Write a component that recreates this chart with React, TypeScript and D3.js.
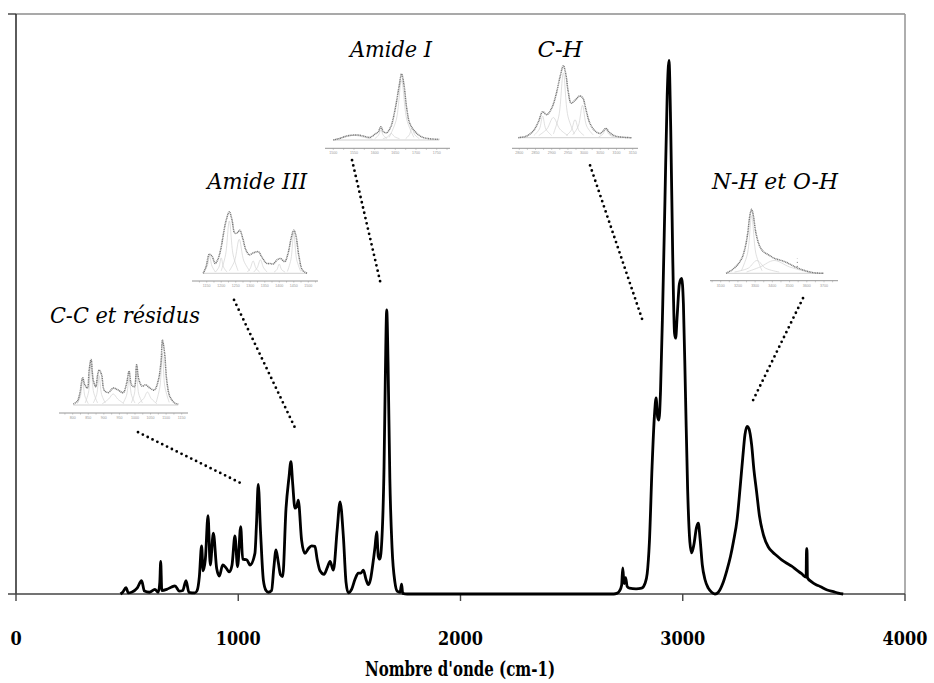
import React from "react";
import * as d3 from "d3";

// ---------- main spectrum (wavenumber cm-1, intensity 0..100) ----------
const spectrum: [number, number][] = [
  [470,0],[480,0.3],[495,1.1],[505,0.2],[520,0.3],[545,1],[565,2.3],[578,0.5],[600,0.3],[625,0.8],[640,0.3],[647,2],[651,5.6],[656,0.6],
  [678,0.8],[700,1.2],[715,1.4],[735,0.5],[750,0.6],[765,2.3],[778,0.3],[805,0.2],[815,0.6],[825,3],[835,8.3],[842,4],[852,6],
  [864,13.5],[874,5],[888,10.5],[903,4.4],[915,3.1],[930,5],[945,4.5],[960,3.8],[972,5],[985,10],[997,4.7],[1011,11.6],[1020,6],
  [1038,5.9],[1053,5],[1075,7],[1082,12],[1090,18.9],[1100,11],[1113,2.4],[1125,0.6],[1135,0.3],[1150,0.6],[1160,4.5],[1170,7.6],
  [1180,5.5],[1190,3.3],[1200,3],[1215,14.8],[1228,20],[1237,22.8],[1245,19],[1255,14.8],[1263,15],[1270,16.2],[1285,9.3],[1300,7],
  [1315,7.8],[1330,8.3],[1345,8.2],[1355,6],[1368,4],[1386,3.4],[1400,4.5],[1413,5.6],[1428,4.1],[1445,11],[1458,15.9],[1473,9.9],
  [1485,2],[1495,0.2],[1510,0.8],[1525,2.5],[1540,3.6],[1552,3.6],[1563,4.1],[1575,2.5],[1585,1.6],[1595,2.5],[1605,5],[1615,8],
  [1623,10.7],[1630,6.5],[1637,6],[1647,10],[1656,22],[1662,38],[1668,49],[1674,40],[1682,20],[1692,8],[1705,2],[1715,0.5],
  [1728,0.3],[1735,1.7],[1740,0.1],[1760,0],[2690,0],[2703,0.1],[2715,0.5],[2725,1.5],[2730,4.5],[2736,1.8],[2743,2.8],[2750,1.3],
  [2760,1],[2790,0.9],[2815,1],[2830,1.8],[2840,3.5],[2850,9],[2862,22],[2873,31],[2880,33.8],[2887,30.5],[2893,30],[2900,35],
  [2910,50],[2920,68],[2930,86],[2938,92],[2946,80],[2955,58],[2963,45],[2968,44.1],[2975,48],[2985,53.5],[2995,54.4],[3003,50],
  [3012,35],[3022,18],[3032,9],[3040,7.1],[3050,8.5],[3062,11.5],[3070,12.2],[3078,9.5],[3088,5],[3100,2.5],[3115,1],[3130,0.3],
  [3145,0],[3160,0.3],[3180,1.8],[3198,4],[3215,6.5],[3228,9],[3245,13],[3258,18.3],[3270,23.5],[3280,27.5],[3290,28.9],[3298,28.5],
  [3310,25.7],[3320,21.5],[3332,17.7],[3345,13.5],[3363,10.2],[3385,8.1],[3405,7.2],[3423,6.6],[3445,5.9],[3468,5.3],[3490,4.8],
  [3513,4.1],[3535,3.5],[3555,2.9],[3557,7.8],[3559,7.8],[3561,2.8],[3580,2.1],[3600,1.6],[3618,1.3],[3650,0.7],[3678,0.4],
  [3700,0.15],[3722,0]
];
const xTicks = [0, 1000, 2000, 3000, 4000];
const xTitle = "Nombre d'onde (cm-1)";

// ---------- band labels ----------
const bandLabels = ["C-C et résidus", "Amide III", "Amide I", "C-H", "N-H et O-H"];

// ---------- inset 1 : C-C et résidus ----------
const ccTotal: [number, number][] = [
  [802,0.015],[815,0.06],[823,0.18],[832,0.42],[839,0.31],[847,0.26],[853,0.54],[859,0.7],[866,0.38],[874,0.28],[880,0.46],[885,0.54],
  [893,0.46],[901,0.23],[914,0.19],[930,0.26],[946,0.23],[962,0.19],[973,0.33],[981,0.52],[989,0.31],[998,0.28],[1005,0.62],[1013,0.38],
  [1023,0.29],[1034,0.31],[1048,0.26],[1062,0.23],[1075,0.38],[1084,0.69],[1088,1.0],[1095,0.8],[1102,0.38],[1112,0.13],[1128,0.03],[1139,0.015]
];
const ccBands: [number, number][][] = [
  [[815,0.02],[825,0.14],[832,0.38],[839,0.14],[850,0.02]],
  [[840,0.03],[851,0.2],[859,0.62],[867,0.2],[880,0.03]],
  [[866,0.03],[877,0.16],[885,0.45],[893,0.16],[905,0.03]],
  [[895,0.02],[915,0.09],[930,0.17],[945,0.09],[965,0.02]],
  [[962,0.03],[973,0.15],[981,0.4],[989,0.15],[1000,0.03]],
  [[988,0.03],[998,0.17],[1005,0.5],[1012,0.17],[1024,0.03]],
  [[1010,0.02],[1028,0.1],[1040,0.2],[1052,0.1],[1070,0.02]],
  [[1068,0.04],[1080,0.28],[1088,0.8],[1096,0.28],[1110,0.04]]
];
const ccTicks = ["800", "850", "900", "950", "1000", "1050", "1100", "1150"];

// ---------- inset 2 : Amide III ----------
const a3Total: [number, number][] = [
  [1138,0],[1148,0.11],[1159,0.31],[1169,0.27],[1179,0.16],[1188,0.22],[1198,0.38],[1207,0.62],[1216,0.84],[1228,1.0],[1237,0.87],
  [1247,0.65],[1256,0.66],[1264,0.7],[1274,0.57],[1285,0.38],[1297,0.3],[1310,0.33],[1328,0.35],[1339,0.27],[1357,0.16],[1368,0.16],
  [1379,0.15],[1393,0.22],[1404,0.24],[1419,0.19],[1430,0.32],[1442,0.59],[1450,0.7],[1457,0.62],[1468,0.27],[1480,0.05],[1496,0]
];
const a3Bands: [number, number][][] = [
  [[1140,0.02],[1152,0.12],[1160,0.28],[1168,0.12],[1180,0.02]],
  [[1180,0.02],[1192,0.1],[1200,0.25],[1208,0.1],[1220,0.02]],
  [[1200,0.04],[1215,0.3],[1228,0.85],[1241,0.3],[1258,0.04]],
  [[1228,0.04],[1246,0.2],[1262,0.55],[1278,0.2],[1298,0.04]],
  [[1290,0.02],[1300,0.08],[1310,0.2],[1320,0.08],[1332,0.02]],
  [[1312,0.02],[1324,0.09],[1335,0.22],[1346,0.09],[1358,0.02]],
  [[1382,0.02],[1392,0.06],[1400,0.15],[1408,0.06],[1420,0.02]],
  [[1428,0.03],[1440,0.22],[1450,0.65],[1460,0.22],[1474,0.03]]
];
const a3Ticks = ["1150", "1200", "1250", "1300", "1350", "1400", "1450", "1500"];

// ---------- inset 3 : Amide I ----------
const a1Total: [number, number][] = [
  [1500,0],[1516,0.025],[1532,0.06],[1557,0.076],[1573,0.06],[1589,0.04],[1601,0.09],[1609,0.126],[1615,0.2],[1621,0.126],[1629,0.11],
  [1639,0.2],[1649,0.45],[1659,0.81],[1665,1.0],[1671,0.83],[1677,0.5],[1685,0.25],[1698,0.126],[1710,0.06],[1726,0.025],[1756,0.01]
];
const a1Bands: [number, number][][] = [
  [[1505,0.01],[1525,0.04],[1550,0.07],[1575,0.04],[1595,0.01]],
  [[1600,0.02],[1609,0.07],[1615,0.15],[1621,0.07],[1630,0.02]],
  [[1620,0.02],[1632,0.05],[1640,0.1],[1648,0.05],[1660,0.02]],
  [[1635,0.04],[1652,0.3],[1665,0.9],[1678,0.3],[1695,0.04]],
  [[1675,0.02],[1684,0.08],[1690,0.18],[1697,0.08],[1708,0.02]]
];
const a1Ticks = ["1500", "1550", "1600", "1650", "1700", "1750"];

// ---------- inset 4 : C-H ----------
const chTotal: [number, number][] = [
  [2797,0],[2823,0.024],[2843,0.093],[2859,0.22],[2872,0.36],[2885,0.32],[2900,0.41],[2913,0.59],[2926,0.85],[2936,1.0],[2944,0.87],
  [2951,0.64],[2960,0.48],[2972,0.52],[2987,0.58],[2996,0.55],[3006,0.385],[3018,0.2],[3034,0.093],[3049,0.06],[3059,0.093],
  [3067,0.13],[3078,0.075],[3095,0.024],[3147,0]
];
const chBands: [number, number][][] = [
  [[2845,0.03],[2862,0.12],[2872,0.3],[2882,0.12],[2900,0.03]],
  [[2860,0.03],[2885,0.12],[2905,0.28],[2925,0.12],[2950,0.03]],
  [[2905,0.05],[2922,0.3],[2936,0.9],[2950,0.3],[2970,0.05]],
  [[2945,0.03],[2960,0.1],[2972,0.25],[2984,0.1],[3000,0.03]],
  [[2965,0.04],[2982,0.16],[2995,0.45],[3008,0.16],[3028,0.04]],
  [[3045,0.01],[3058,0.05],[3067,0.12],[3076,0.05],[3090,0.01]]
];
const chTicks = ["2800", "2850", "2900", "2950", "3000", "3050", "3100", "3150"];

// ---------- inset 5 : N-H et O-H ----------
const nhTotal: [number, number][] = [
  [3131,0],[3164,0.05],[3197,0.13],[3222,0.23],[3241,0.39],[3257,0.625],[3270,0.91],[3280,1.0],[3289,0.91],[3305,0.625],[3324,0.44],
  [3347,0.34],[3377,0.29],[3415,0.23],[3454,0.2],[3493,0.156],[3532,0.1],[3580,0.05],[3638,0.01],[3696,0]
];
const nhSpike: [number, number][] = [[3545, 0.1], [3545, 0.23]];
const nhBands: [number, number][][] = [
  [[3220,0.04],[3255,0.3],[3280,0.9],[3305,0.3],[3340,0.04]],
  [[3180,0.02],[3260,0.08],[3310,0.2],[3360,0.08],[3440,0.02]],
  [[3250,0.02],[3330,0.1],[3410,0.2],[3500,0.1],[3620,0.01]]
];
const nhTicks = ["3100", "3200", "3300", "3400", "3500", "3600", "3700"];

// ---------- layout ----------
const W = 934, H = 683;
const M = { left: 16, right: 905, top: 14, bottom: 594 };
const SERIF = "DejaVu Serif";

type Inset = {
  total: [number, number][]; bands: [number, number][][]; ticks: string[];
  x0: number; x1: number; px0: number; px1: number; ax0: number; ax1: number;
  axisY: number; base: number; h: number; extra?: [number, number][];
};
const insets: Inset[] = [
  { total: ccTotal, bands: ccBands, ticks: ccTicks, x0: 800, x1: 1150, px0: 72.7, px1: 181.7, ax0: 59, ax1: 188, axisY: 413, base: 405, h: 65 },
  { total: a3Total, bands: a3Bands, ticks: a3Ticks, x0: 1150, x1: 1500, px0: 206.7, px1: 308.3, ax0: 192, ax1: 318, axisY: 281, base: 273.3, h: 61.6 },
  { total: a1Total, bands: a1Bands, ticks: a1Ticks, x0: 1500, x1: 1750, px0: 333.3, px1: 436.7, ax0: 325, ax1: 450, axisY: 148.3, base: 140, h: 66 },
  { total: chTotal, bands: chBands, ticks: chTicks, x0: 2800, x1: 3150, px0: 519.3, px1: 632.7, ax0: 512, ax1: 638, axisY: 148.3, base: 137.7, h: 72 },
  { total: nhTotal, bands: nhBands, ticks: nhTicks, x0: 3100, x1: 3700, px0: 720.7, px1: 824, ax0: 710, ax1: 838, axisY: 280.7, base: 273.3, h: 64, extra: nhSpike }
];

// label anchors (main-chart data coords) and their rendered widths
const labelPos: [number, number][] = [[490, 46.7], [1085, 69.8], [1687, 92.6], [2448, 92.6], [3415, 69.8]];
const labelWidths = [150, 100, 82, 45, 126];
const leaders: [number, number, number, number][] = [
  [549, 27.9, 1012, 19.1],
  [981, 50.7, 1256, 28.6],
  [1512, 74.8, 1642, 53.3],
  [2583, 73.9, 2817, 47.4],
  [3541, 51.0, 3315, 33.3]
];

function InsetChart({ d }: { d: Inset }) {
  const sx = d3.scaleLinear().domain([d.x0, d.x1]).range([d.px0, d.px1]);
  const sy = d3.scaleLinear().domain([0, 1]).range([d.base, d.base - d.h]);
  const line = d3.line<[number, number]>().x(p => sx(p[0])).y(p => sy(p[1])).curve(d3.curveCatmullRom.alpha(0.5));
  const base = d3.line<[number, number]>().x(p => sx(p[0])).y(p => sy(p[1]));
  const step = (d.x1 - d.x0) / (d.ticks.length - 1);
  const minor = d3.range(0, d.ticks.length + 1).map(i => d.x0 + (i - 0.5) * step)
    .filter(v => sx(v) > d.ax0 && sx(v) < d.ax1);
  const tFirst = d.total[0][0], tLast = d.total[d.total.length - 1][0];
  return (
    <g>
      <path d={base([[tFirst, 0], [tLast, 0]]) || ""} stroke="#c4c4c4" strokeWidth={0.8} fill="none" />
      {d.bands.map((b, i) => (
        <path key={i} d={line(b) || ""} fill="none" stroke="#d2d2d2" strokeWidth={0.7} />
      ))}
      <path d={line(d.total) || ""} fill="none" stroke="#7a7a7a" strokeWidth={1.5} strokeDasharray="1.1 0.6" />
      {d.extra && (
        <path d={base(d.extra) || ""} fill="none" stroke="#777" strokeWidth={1} strokeDasharray="1 3" />
      )}
      <line x1={d.ax0} x2={d.ax1} y1={d.axisY} y2={d.axisY} stroke="#8a8a8a" strokeWidth={0.9} />
      {minor.map((v, i) => (
        <line key={"m" + i} x1={sx(v)} x2={sx(v)} y1={d.axisY} y2={d.axisY + 1.6} stroke="#999" strokeWidth={0.5} />
      ))}
      {d.ticks.map((t, i) => (
        <g key={t}>
          <line x1={sx(d.x0 + i * step)} x2={sx(d.x0 + i * step)} y1={d.axisY} y2={d.axisY + 1.6} stroke="#999" strokeWidth={0.5} />
          <text x={sx(d.x0 + i * step)} y={d.axisY + 6} fontSize={3.6} fill="#999" textAnchor="middle" fontFamily="Liberation Sans">{t}</text>
        </g>
      ))}
    </g>
  );
}

export default function App() {
  const x = d3.scaleLinear().domain([0, 4000]).range([M.left, M.right]);
  const y = d3.scaleLinear().domain([0, 100]).range([M.bottom, M.top]);
  const line = d3.line<[number, number]>().x(d => x(d[0])).y(d => y(d[1])).curve(d3.curveMonotoneX);

  return (
    <svg width={W} height={H} style={{ position: "absolute", left: 0, top: 0, background: "#fff" }}>
      {/* frame */}
      <line x1={M.left} x2={M.right} y1={M.top} y2={M.top} stroke="#8c8c8c" strokeWidth={1.6} />
      <line x1={M.right} x2={M.right} y1={M.top} y2={M.bottom} stroke="#9a9a9a" strokeWidth={1.6} />
      <line x1={M.left - 8} x2={M.left} y1={M.top} y2={M.top} stroke="#555" strokeWidth={1.6} />
      <line x1={M.left} x2={M.left} y1={M.top} y2={M.bottom} stroke="#333" strokeWidth={1.6} />
      <line x1={M.left - 8} x2={M.right} y1={M.bottom} y2={M.bottom} stroke="#444" strokeWidth={1.6} />
      {xTicks.map(t => (
        <g key={t}>
          <line x1={x(t)} x2={x(t)} y1={M.bottom} y2={M.bottom + 7} stroke="#444" strokeWidth={1.4} />
          <text x={x(t)} y={645} textAnchor="middle" fontFamily={SERIF} fontWeight="bold" fontSize={19}
            textLength={String(t).length * 11.2} lengthAdjust="spacingAndGlyphs">{t}</text>
        </g>
      ))}
      <text x={460} y={676} textAnchor="middle" fontFamily={SERIF} fontWeight="bold" fontSize={21}
        textLength={190} lengthAdjust="spacingAndGlyphs">{xTitle}</text>

      {/* spectrum */}
      <path d={line(spectrum) || ""} fill="none" stroke="#000" strokeWidth={2.8} strokeLinejoin="round" />

      {/* insets */}
      {insets.map((d, i) => <InsetChart key={i} d={d} />)}

      {/* leader lines */}
      {leaders.map((l, i) => (
        <line key={i} x1={x(l[0])} y1={y(l[1])} x2={x(l[2])} y2={y(l[3])} stroke="#000" strokeWidth={2.8}
          strokeLinecap="round" strokeDasharray="0 5.4" />
      ))}

      {/* labels */}
      {bandLabels.map((t, i) => (
        <text key={t} x={x(labelPos[i][0])} y={y(labelPos[i][1])} textAnchor="middle"
          fontFamily={SERIF} fontStyle="italic" fontSize={23}
          textLength={labelWidths[i]} lengthAdjust="spacingAndGlyphs">{t}</text>
      ))}
    </svg>
  );
}
